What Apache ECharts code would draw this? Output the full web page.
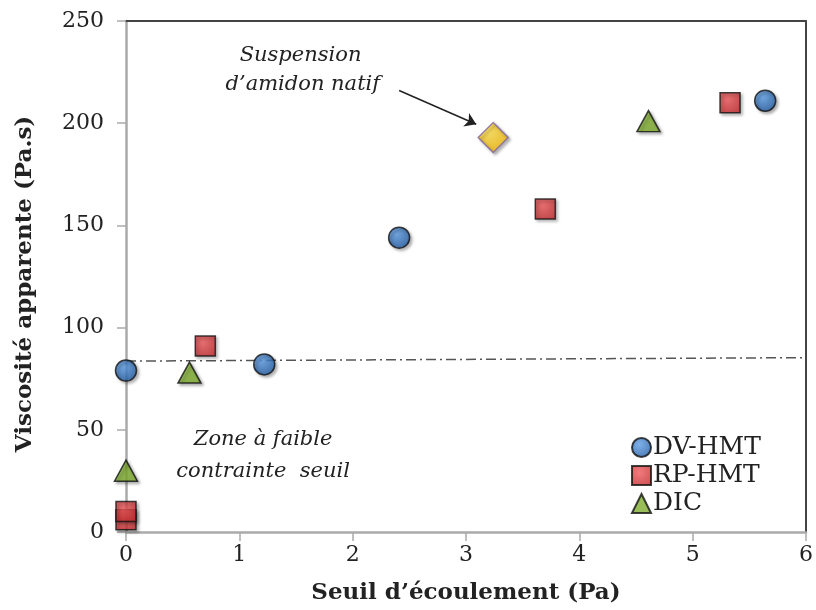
<!DOCTYPE html>
<html>
<head>
<meta charset="utf-8">
<script src="https://cdn.jsdelivr.net/npm/echarts@6/dist/echarts.min.js"></script>
<style>
  html, body { margin: 0; padding: 0; background: #fff; }
  #main { width: 816px; height: 610px; }
</style>
</head>
<body>
<div id="main"></div>
<script>
// values
var dvX = [0, 1.22, 2.41, 5.64];
var dvY = [79, 82, 144, 211];
var rpX = [0, 0, 0.70, 3.70, 5.33];
var rpY = [6, 10, 91, 158, 210];
var dicX = [0, 0.56, 4.61];
var dicY = [30, 78, 201];
var natX = [3.24];
var natY = [193];
var refX = [0, 6];
var refY = [83.6, 85.3];

function pairs(xs, ys){
  var out = [];
  for (var i = 0; i < xs.length; i++) out.push([xs[i], ys[i]]);
  return out;
}

var font = 'DejaVu Serif';
var shadow = { shadowBlur: 3, shadowOffsetX: 2, shadowOffsetY: 2, shadowColor: 'rgba(0,0,0,0.35)' };

function grad(light, dark){
  return new echarts.graphic.RadialGradient(0.4, 0.35, 0.7, [
    { offset: 0, color: light }, { offset: 1, color: dark }
  ]);
}

var myChart = echarts.init(document.getElementById('main'));
var option = {
  animation: false,
  backgroundColor: '#fff',
  grid: { left: 126, right: 10, top: 21, bottom: 77 },
  legend: {
    orient: 'vertical',
    left: 626,
    top: 430,
    itemWidth: 19,
    itemHeight: 19,
    itemGap: 3,
    data: ['DV-HMT', 'RP-HMT', 'DIC'],
    textStyle: { fontFamily: font, fontSize: 25, color: '#222', padding: [0, 0, 0, -3] }
  },
  xAxis: [{
    type: 'value', min: 0, max: 6, interval: 1,
    name: "Seuil d’écoulement (Pa)", nameLocation: 'middle', nameGap: 50,
    nameTextStyle: { fontFamily: font, fontSize: 23, fontWeight: 'bold', color: '#222' },
    axisLine: { onZero: false, lineStyle: { color: '#aaa', width: 2.5 } },
    axisTick: { show: true, length: 9, lineStyle: { color: '#aaa', width: 1.5 } },
    axisLabel: { fontFamily: font, fontSize: 22, color: '#222', margin: 12 },
    splitLine: { show: false }
  }, {
    type: 'value', min: 0, max: 6, position: 'top',
    axisLine: { show: true, onZero: false, lineStyle: { color: '#444', width: 2 } },
    axisTick: { show: false }, axisLabel: { show: false }, splitLine: { show: false }
  }],
  yAxis: [{
    type: 'value', min: 0, max: 250, interval: 50,
    axisLine: { show: true, onZero: false, lineStyle: { color: '#aaa', width: 2.5 } },
    axisTick: { show: true, length: 9, lineStyle: { color: '#aaa', width: 1.5 } },
    axisLabel: { fontFamily: font, fontSize: 22, color: '#222', margin: 22 },
    splitLine: { show: false }
  }, {
    type: 'value', min: 0, max: 250, position: 'right',
    axisLine: { show: true, onZero: false, lineStyle: { color: '#444', width: 2 } },
    axisTick: { show: false }, axisLabel: { show: false }, splitLine: { show: false }
  }],
  series: [
    {
      name: 'ref', type: 'line', data: pairs(refX, refY), symbol: 'none', silent: true,
      lineStyle: { color: '#555', width: 1.5, type: [10, 4, 2, 4] }, z: 1
    },
    {
      name: 'arrow', type: 'lines', coordinateSystem: 'cartesian2d',
      symbol: ['none', 'arrow'], symbolSize: 11,
      lineStyle: { color: '#222', width: 1.5, opacity: 1 },
      data: [{ coords: [[2.41, 216], [3.09, 199.5]] }]
    },
    {
      name: 'DV-HMT', type: 'scatter', data: pairs(dvX, dvY), symbol: 'circle', symbolSize: 21,
      itemStyle: Object.assign({ color: grad('#5d9de4', '#1d58a0'), borderColor: '#111', borderWidth: 1.5 }, shadow), z: 3
    },
    {
      name: 'RP-HMT', type: 'scatter', data: pairs(rpX, rpY), symbol: 'rect', symbolSize: 20,
      itemStyle: Object.assign({ color: grad('#ee5a5c', '#c42a2d'), borderColor: '#111', borderWidth: 1.5 }, shadow), z: 3
    },
    {
      name: 'DIC', type: 'scatter', data: pairs(dicX, dicY), symbol: 'triangle', symbolSize: [23, 21],
      itemStyle: Object.assign({ color: '#7fae2f', borderColor: '#111', borderWidth: 1.5 }, shadow), z: 3
    },
    {
      name: 'Suspension', type: 'scatter', data: pairs(natX, natY), symbol: 'diamond', symbolSize: [30, 30],
      itemStyle: Object.assign({ color: grad('#ffe04a', '#f4b400'), borderColor: '#8064a2', borderWidth: 1.5 }, shadow), z: 3
    }
  ]
};
myChart.setOption(option);

// annotation texts placed in data space
var notes = [
  { t: 'Suspension', x: 1.54, y: 233 },
  { t: 'd’amidon natif', x: 1.56, y: 219 },
  { t: 'Zone à faible', x: 1.21, y: 45 },
  { t: 'contrainte  seuil', x: 1.21, y: 29.5 }
];
var gr = notes.map(function(n){
  var p = myChart.convertToPixel({ xAxisIndex: 0, yAxisIndex: 0 }, [n.x, n.y]);
  return {
    type: 'text', x: p[0], y: p[1],
    style: { text: n.t, fontFamily: font, fontStyle: 'italic', fontSize: 21, fill: '#222', align: 'center', verticalAlign: 'middle' }
  };
});
gr.push({
  type: 'text', x: 25, y: 284, rotation: Math.PI / 2,
  style: { text: 'Viscosité apparente (Pa.s)', fontFamily: font, fontSize: 23, fontWeight: 'bold', fill: '#222', align: 'center', verticalAlign: 'middle' }
});
myChart.setOption({ graphic: gr });
</script>
</body>
</html>
